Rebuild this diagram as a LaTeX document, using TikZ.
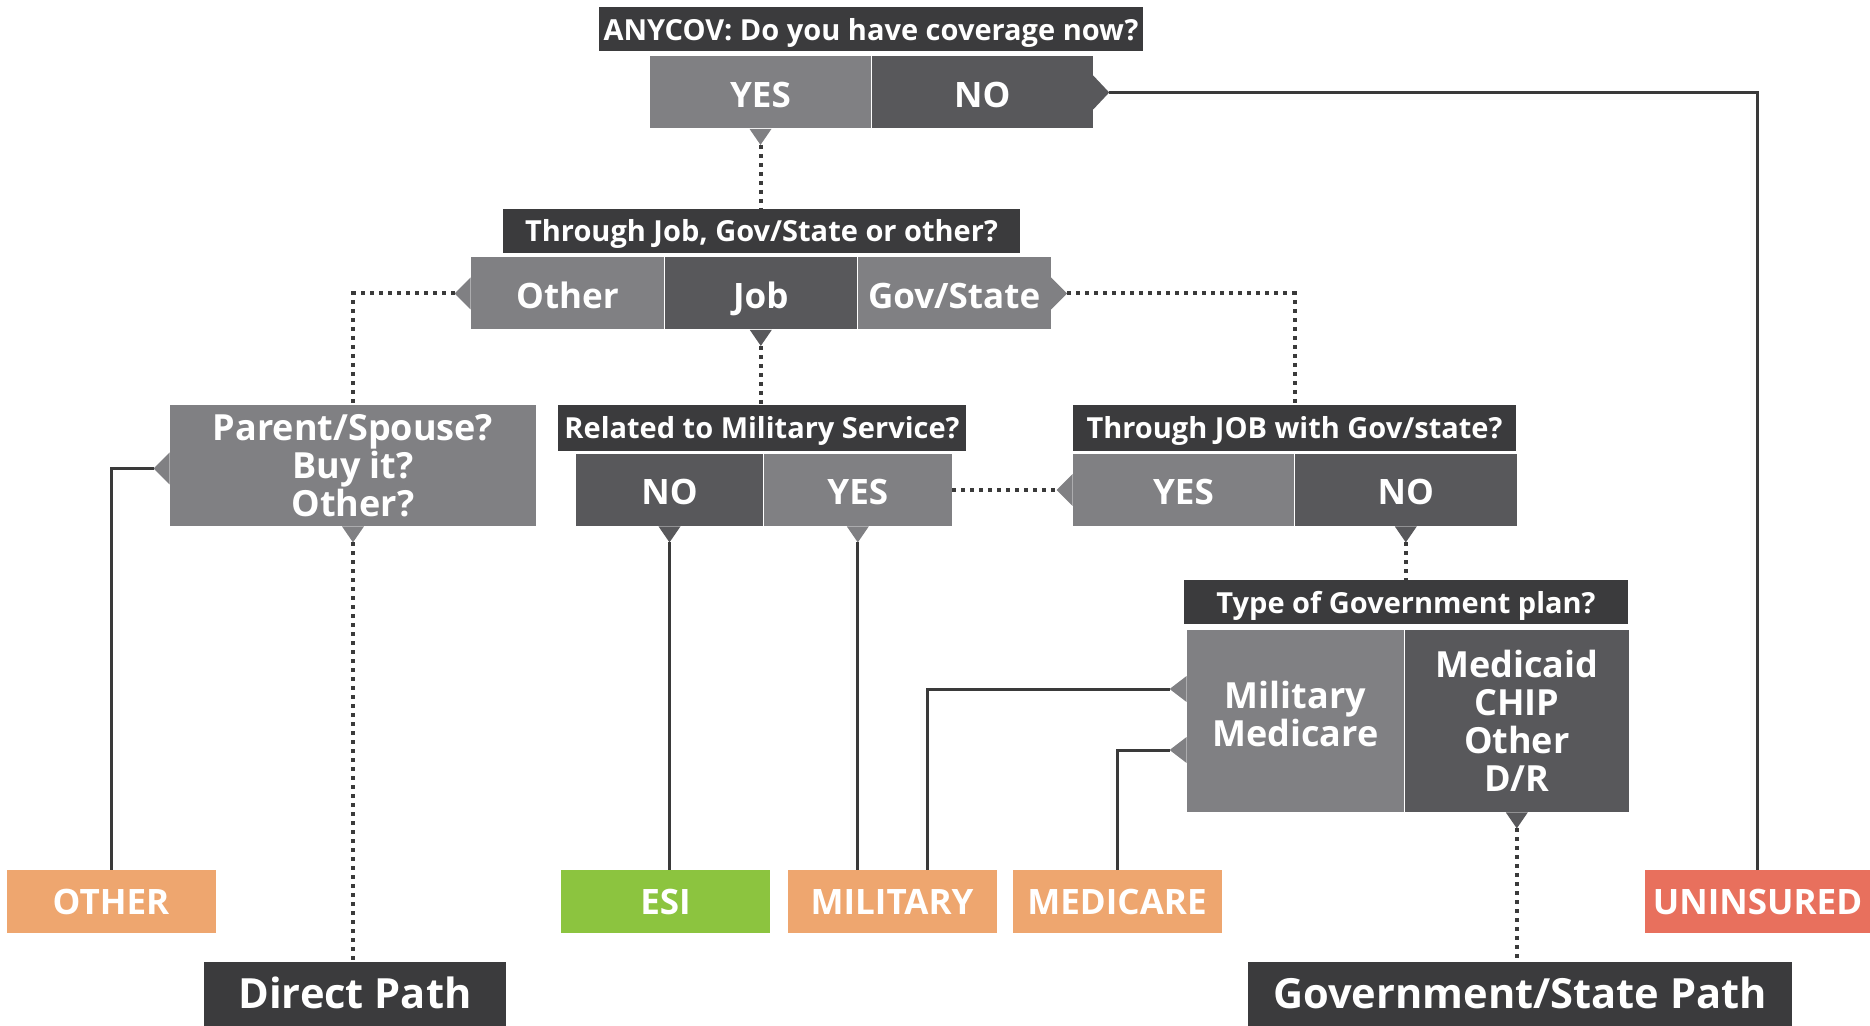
\documentclass[tikz,border=0pt]{standalone}
\usepackage{fontspec}
\setmainfont{Open Sans}
\usetikzlibrary{positioning}
\definecolor{titlegray}{HTML}{3B3B3D}
\definecolor{darkopt}{HTML}{58585B}
\definecolor{liteopt}{HTML}{808083}
\definecolor{linegray}{HTML}{3A3A3A}
\definecolor{orangeout}{HTML}{EEA66F}
\definecolor{greenout}{HTML}{8CC43F}
\definecolor{redout}{HTML}{E8705D}

\begin{document}
\begin{tikzpicture}[x=0.5pt,y=-0.5pt,
  every node/.style={inner sep=0pt,text=white,font=\bfseries},
  capcenter/.style={text height=#1,text depth=0pt},
  qtitle/.style={fill=titlegray,capcenter=11pt,minimum height=22pt,font=\fontsize{14.5}{16}\bfseries},
  opt/.style={capcenter=15pt,minimum height=36pt,font=\fontsize{17.5}{18}\bfseries},
  lite/.style={fill=liteopt},
  dark/.style={fill=darkopt},
  multi/.style={align=center,font=\fontsize{18}{19}\bfseries},
  result/.style={capcenter=13pt,minimum width=104.5pt,minimum height=31.5pt,font=\fontsize{17.5}{18}\bfseries},
  pathbox/.style={capcenter=14.8pt,fill=titlegray,minimum height=32pt,font=\fontsize{20.8}{22}\bfseries},
  solidline/.style={draw=linegray,line width=1.5pt},
  dotline/.style={draw=linegray,line width=2pt,dash pattern=on 2pt off 2.5pt}]
\useasboundingbox (0,0) rectangle (1870,1026);

% first question
\node[qtitle,minimum width=272pt] (anycov) at (871,29.5) {ANYCOV: Do you have coverage now?};
\node[opt,lite,minimum width=110.5pt] (anyyes) at (760.5,92.5) {YES};
\node[opt,dark,minimum width=110.5pt,right=0pt of anyyes] (anyno) {NO};

% through what
\node[qtitle,minimum width=258.5pt] (viaq) at (761.5,231) {Through Job, Gov/State or other?};
\node[opt,lite,minimum width=96.5pt] (viaother) at (567.5,293.5) {Other};
\node[opt,dark,minimum width=96pt,right=0pt of viaother] (viajob) {Job};
\node[opt,lite,minimum width=96.5pt,right=0pt of viajob] (viagov) {Gov/State};

% third row
\node[lite,multi,minimum width=183pt,minimum height=60.5pt] (buyq) at (353,465.5) {Parent/Spouse?\\Buy it?\\Other?};
\node[qtitle,minimum width=204pt,minimum height=23pt] (milq) at (762,428) {Related to Military Service?};
\node[opt,dark,minimum width=93.5pt] (milno) at (669.5,490) {NO};
\node[opt,lite,minimum width=94pt,right=0pt of milno] (milyes) {YES};
\node[qtitle,minimum width=221.5pt,minimum height=23pt] (govjobq) at (1294.5,428) {Through JOB with Gov/state?};
\node[opt,lite,minimum width=110.5pt] (govjobyes) at (1183.5,490) {YES};
\node[opt,dark,minimum width=111pt,right=0pt of govjobyes] (govjobno) {NO};

% plan type
\node[qtitle,minimum width=222pt] (planq) at (1406,602) {Type of Government plan?};
\node[lite,minimum width=108.5pt,minimum height=91pt] (planmil) at (1295.5,721) {};
\node[multi] (planmiltext) at (1295.5,714) {Military\\Medicare};
\node[dark,multi,minimum width=112pt,minimum height=91pt,right=0pt of planmil] (planmcd) {Medicaid\\CHIP\\Other\\D/R};

% outcomes
\node[result,fill=orangeout] (other) at (111,901.5) {OTHER};
\node[result,fill=greenout] (esi) at (665.5,901.5) {ESI};
\node[result,fill=orangeout] (military) at (892,901.5) {MILITARY};
\node[result,fill=orangeout] (medicare) at (1117,901.5) {MEDICARE};
\node[result,fill=redout,minimum width=112.5pt] (uninsured) at (1757.5,901.5) {UNINSURED};
\node[pathbox,minimum width=151pt] (direct) at (355,994) {Direct Path};
\node[pathbox,minimum width=272pt] (govpath) at (1520,994) {Government/State Path};

% notches
\fill[liteopt] (anyyes.south) ++(-11,0) -- ++(11,16) coordinate (anyyestip) -- ++(11,-16) -- cycle;
\fill[darkopt] (anyno.east) ++(0,-17) -- ++(16,17) coordinate (anynotip) -- ++(-16,17) -- cycle;
\fill[liteopt] (viaother.west) ++(0,-16) -- ++(-16,16) coordinate (viaothertip) -- ++(16,16) -- cycle;
\fill[darkopt] (viajob.south) ++(-11,0) -- ++(11,16) coordinate (viajobtip) -- ++(11,-16) -- cycle;
\fill[liteopt] (viagov.east) ++(0,-16) -- ++(16,16) coordinate (viagovtip) -- ++(-16,16) -- cycle;
\fill[liteopt] (buyq.west) ++(0,-13) -- ++(-16,16) coordinate (buyqtip) -- ++(16,16) -- cycle;
\fill[liteopt] (buyq.south) ++(-11,0) -- ++(11,16) coordinate (buyqbot) -- ++(11,-16) -- cycle;
\fill[darkopt] (milno.south) ++(-11,0) -- ++(11,16) coordinate (milnotip) -- ++(11,-16) -- cycle;
\fill[liteopt] (milyes.south) ++(-11,0) -- ++(11,16) coordinate (milyestip) -- ++(11,-16) -- cycle;
\fill[liteopt] (govjobyes.west) ++(0,-16) -- ++(-16,16) coordinate (govjobyestip) -- ++(16,16) -- cycle;
\fill[darkopt] (govjobno.south) ++(-11,0) -- ++(11,16) coordinate (govjobnotip) -- ++(11,-16) -- cycle;
\fill[liteopt] ([yshift=16pt]planmil.west) ++(0,-13) -- ++(-17,13) coordinate (planmiltipa) -- ++(17,13) -- cycle;
\fill[liteopt] ([yshift=-14.5pt]planmil.west) ++(0,-13) -- ++(-17,13) coordinate (planmiltipb) -- ++(17,13) -- cycle;
\fill[darkopt] (planmcd.south) ++(-11,0) -- ++(11,16) coordinate (planmcdtip) -- ++(11,-16) -- cycle;

% connectors
\draw[solidline] (anynotip) -| (uninsured.north);
\draw[dotline] (anyyestip) -- (anyyestip |- viaq.north);
\draw[dotline] (viaothertip) -| (buyq.north);
\draw[dotline] (viagovtip) -| (govjobq.north);
\draw[dotline] (viajobtip) -- (viajobtip |- milq.north);
\draw[solidline] (buyqtip) -| (other.north);
\draw[dotline] (buyqbot) -- (buyqbot |- direct.north);
\draw[solidline] (milnotip) -- (milnotip |- esi.north);
\draw[solidline] (milyestip) -- (milyestip |- military.north);
\draw[dotline] (milyes.east) -- (govjobyestip);
\draw[dotline] (govjobnotip) -- (govjobnotip |- planq.north);
\draw[solidline] (planmiltipa) -| ([xshift=17.5pt]military.north);
\draw[solidline] (planmiltipb) -| (medicare.north);
\draw[dotline] (planmcdtip) -- (planmcdtip |- govpath.north);
\end{tikzpicture}
\end{document}
